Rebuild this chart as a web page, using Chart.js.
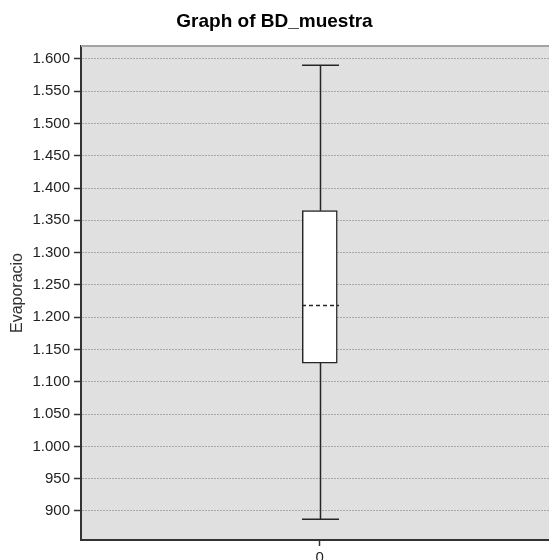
<!DOCTYPE html>
<html>
<head>
<meta charset="utf-8">
<script src="https://cdn.jsdelivr.net/npm/chart.js@4/dist/chart.umd.min.js"></script>
<style>
  html, body { margin: 0; padding: 0; background: #fff; overflow: hidden; }
  #wrap { width: 549px; height: 575px; }
</style>
</head>
<body>
<div id="wrap"><canvas id="boxChart" width="549" height="575"></canvas></div>
<script>
// datos del boxplot
const categories = [0];
const whiskerLow = [887];
const q1 = [1129];
const median = [1218];
const q3 = [1365];
const whiskerHigh = [1590];
const yTicks = [900, 950, 1000, 1050, 1100, 1150, 1200, 1250, 1300, 1350, 1400, 1450, 1500, 1550, 1600];
const xTicks = [0];

const FONT = "'Liberation Sans', Arial, sans-serif";

function formatMiles(v) {
    if (v < 1000) return String(v);
    return Math.floor(v / 1000) + '.' + String(v % 1000).padStart(3, '0');
}

// fondo gris del area y borde superior
const plotBackground = {
    id: 'plotBackground',
    beforeDraw(chart) {
        const {ctx, chartArea: a} = chart;
        ctx.save();
        ctx.fillStyle = '#e0e0e0';
        ctx.fillRect(a.left, a.top, a.right - a.left, a.bottom - a.top);
        ctx.restore();
    },
    afterDraw(chart) {
        const {ctx, chartArea: a} = chart;
        ctx.save();
        ctx.strokeStyle = '#a3a3a3';
        ctx.lineWidth = 2;
        ctx.beginPath();
        ctx.moveTo(a.left, a.top);
        ctx.lineTo(a.right, a.top);
        ctx.stroke();
        ctx.restore();
    }
};

// bigotes y mediana, usando las escalas del grafico
const boxWhiskers = {
    id: 'boxWhiskers',
    afterDatasetsDraw(chart) {
        const {ctx, scales: {y}} = chart;
        const meta = chart.getDatasetMeta(0);
        meta.data.forEach((bar, i) => {
            const cx = Math.round(bar.x) + 0.5;
            const half = bar.width / 2 + 1;
            const yMin = y.getPixelForValue(whiskerLow[i]);
            const yMax = y.getPixelForValue(whiskerHigh[i]);
            const yQ1 = y.getPixelForValue(q1[i]);
            const yQ3 = y.getPixelForValue(q3[i]);
            const yMed = y.getPixelForValue(median[i]);
            ctx.save();
            ctx.strokeStyle = '#262626';
            ctx.lineWidth = 1.5;
            ctx.beginPath();
            ctx.moveTo(cx, yQ3); ctx.lineTo(cx, yMax);
            ctx.moveTo(cx - half, yMax); ctx.lineTo(cx + half, yMax);
            ctx.moveTo(cx, yQ1); ctx.lineTo(cx, yMin);
            ctx.moveTo(cx - half, yMin); ctx.lineTo(cx + half, yMin);
            ctx.stroke();
            ctx.setLineDash([4, 3]);
            ctx.beginPath();
            ctx.moveTo(cx - half, yMed); ctx.lineTo(cx + half, yMed);
            ctx.stroke();
            ctx.restore();
        });
    }
};

const ctx = document.getElementById('boxChart').getContext('2d');
new Chart(ctx, {
    type: 'bar',
    data: {
        datasets: [{
            label: 'Evaporacio',
            data: categories.map((c, i) => ({x: c, y: [q1[i], q3[i]]})),
            backgroundColor: '#ffffff',
            borderColor: '#262626',
            borderWidth: 1.5,
            borderSkipped: false,
            barThickness: 35
        }]
    },
    options: {
        responsive: false,
        animation: false,
        layout: { padding: { left: 0, right: 0, top: 0, bottom: 0 } },
        scales: {
            x: {
                type: 'linear',
                min: -0.5,
                max: 0.48,
                offset: false,
                afterBuildTicks: (s) => { s.ticks = xTicks.map(v => ({value: v})); },
                afterFit: (s) => { s.height = 35; },
                grid: { offset: false, drawOnChartArea: false, drawTicks: true, tickLength: 6, tickColor: '#333', color: '#333', tickWidth: 1.5 },
                border: { color: '#333', width: 2 },
                ticks: { color: '#222', font: { family: FONT, size: 15 }, padding: 3, maxRotation: 0 }
            },
            y: {
                min: 855,
                max: 1620,
                afterBuildTicks: (s) => { s.ticks = yTicks.map(v => ({value: v})); },
                afterFit: (s) => { s.width = 81; },
                grid: { color: '#a8a8a8', lineWidth: 1, tickLength: 7, tickColor: '#333', tickWidth: 1.5, tickBorderDash: [] },
                border: { color: '#333', width: 2, dash: [2, 1] },
                ticks: {
                    color: '#222',
                    font: { family: FONT, size: 15 },
                    padding: 4,
                    callback: (v) => formatMiles(v)
                },
                title: {
                    display: true,
                    text: 'Evaporacio',
                    color: '#333',
                    font: { family: FONT, size: 16 },
                    padding: { top: 8, bottom: 0 }
                }
            }
        },
        plugins: {
            legend: { display: false },
            tooltip: { enabled: false },
            title: {
                display: true,
                text: 'Graph of BD_muestra',
                color: '#000',
                font: { family: FONT, size: 19, weight: 'bold' },
                padding: { top: 10.6, bottom: 12.6 }
            }
        }
    },
    plugins: [plotBackground, boxWhiskers]
});
</script>
</body>
</html>
